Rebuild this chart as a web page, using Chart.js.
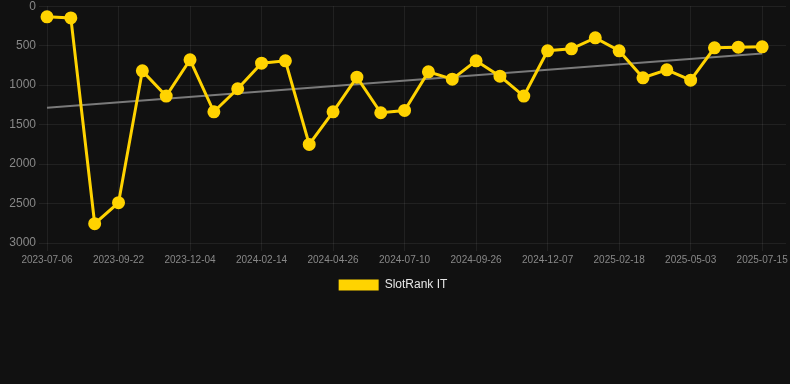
<!DOCTYPE html>
<html>
<head>
<meta charset="utf-8">
<script src="https://cdn.jsdelivr.net/npm/chart.js@4/dist/chart.umd.min.js"></script>
<style>
  html, body { margin: 0; padding: 0; background: #111111; overflow: hidden; }
  #wrap { width: 790px; height: 388px; margin-top: -4px; position: relative; }
</style>
</head>
<body>
<div id="wrap"><canvas id="c"></canvas></div>
<script>
const categories = [
  "2023-07-06","2023-08-01","2023-08-27","2023-09-22","2023-10-16","2023-11-09",
  "2023-12-04","2023-12-28","2024-01-21","2024-02-14","2024-03-08","2024-04-02",
  "2024-04-26","2024-05-20","2024-06-15","2024-07-10","2024-08-04","2024-08-31",
  "2024-09-26","2024-10-20","2024-11-13","2024-12-07","2024-12-31","2025-01-25",
  "2025-02-18","2025-03-14","2025-04-08","2025-05-03","2025-05-27","2025-06-20",
  "2025-07-15",""
];
const slotRankIT = [
  135, 148, 2755, 2489, 819, 1139,
  679, 1338, 1046, 722, 692, 1751,
  1338, 899, 1350, 1321, 831, 924,
  692, 886, 1139, 565, 540, 401,
  565, 907, 806, 937, 527, 519,
  515
];
const trendEnds = [1287, 599];
const yTicks = [0, 500, 1000, 1500, 2000, 2500, 3000];

const trendData = categories.map(() => null);
trendData[0] = trendEnds[0];
trendData[slotRankIT.length - 1] = trendEnds[1];

const gridColor = 'rgba(255,255,255,0.07)';

new Chart(document.getElementById('c'), {
  type: 'line',
  data: {
    labels: categories,
    datasets: [
      {
        label: 'SlotRank IT',
        data: slotRankIT,
        borderColor: '#FFD300',
        backgroundColor: '#FFD300',
        borderWidth: 3,
        pointRadius: 5,
        pointHoverRadius: 5,
        pointBackgroundColor: '#FFD300',
        pointBorderColor: '#FFD300',
        tension: 0,
        clip: false
      },
      {
        label: 'trend',
        data: trendData,
        borderColor: '#7a7a7a',
        borderWidth: 2,
        pointRadius: 0,
        spanGaps: true,
        tension: 0
      }
    ]
  },
  options: {
    responsive: true,
    maintainAspectRatio: false,
    animation: false,
    layout: { autoPadding: false, padding: { left: 0, right: 4, top: 0, bottom: 83 } },
    plugins: {
      legend: {
        position: 'bottom',
        labels: {
          color: '#e6e6e6',
          font: { size: 12, family: 'Liberation Sans, Arial, sans-serif' },
          boxWidth: 40,
          boxHeight: 11,
          generateLabels: (chart) =>
            Chart.defaults.plugins.legend.labels.generateLabels(chart)
              .filter(item => item.text !== 'trend')
              .map(item => Object.assign(item, { lineWidth: 0 }))
        }
      },
      tooltip: { enabled: false }
    },
    scales: {
      x: {
        offset: false,
        grid: {
          color: (ctx) => (ctx.index % 3 === 0 && ctx.index < slotRankIT.length) ? gridColor : 'transparent',
          drawTicks: true
        },
        border: { display: false },
        ticks: {
          autoSkip: false,
          maxRotation: 0,
          minRotation: 0,
          color: '#888888',
          font: { size: 10, family: 'Liberation Sans, Arial, sans-serif' },
          callback: function(value, index) {
            return (index % 3 === 0) ? categories[index] : '';
          }
        }
      },
      y: {
        reverse: true,
        min: 0,
        max: 3000,
        afterFit: (scale) => { scale.width = 47; },
        afterBuildTicks: (scale) => { scale.ticks = yTicks.map(v => ({ value: v })); },
        grid: { color: gridColor },
        border: { display: false },
        ticks: {
          color: '#888888',
          font: { size: 12, family: 'Liberation Sans, Arial, sans-serif' },
          callback: (v) => String(v)
        }
      }
    }
  }
});
</script>
</body>
</html>
